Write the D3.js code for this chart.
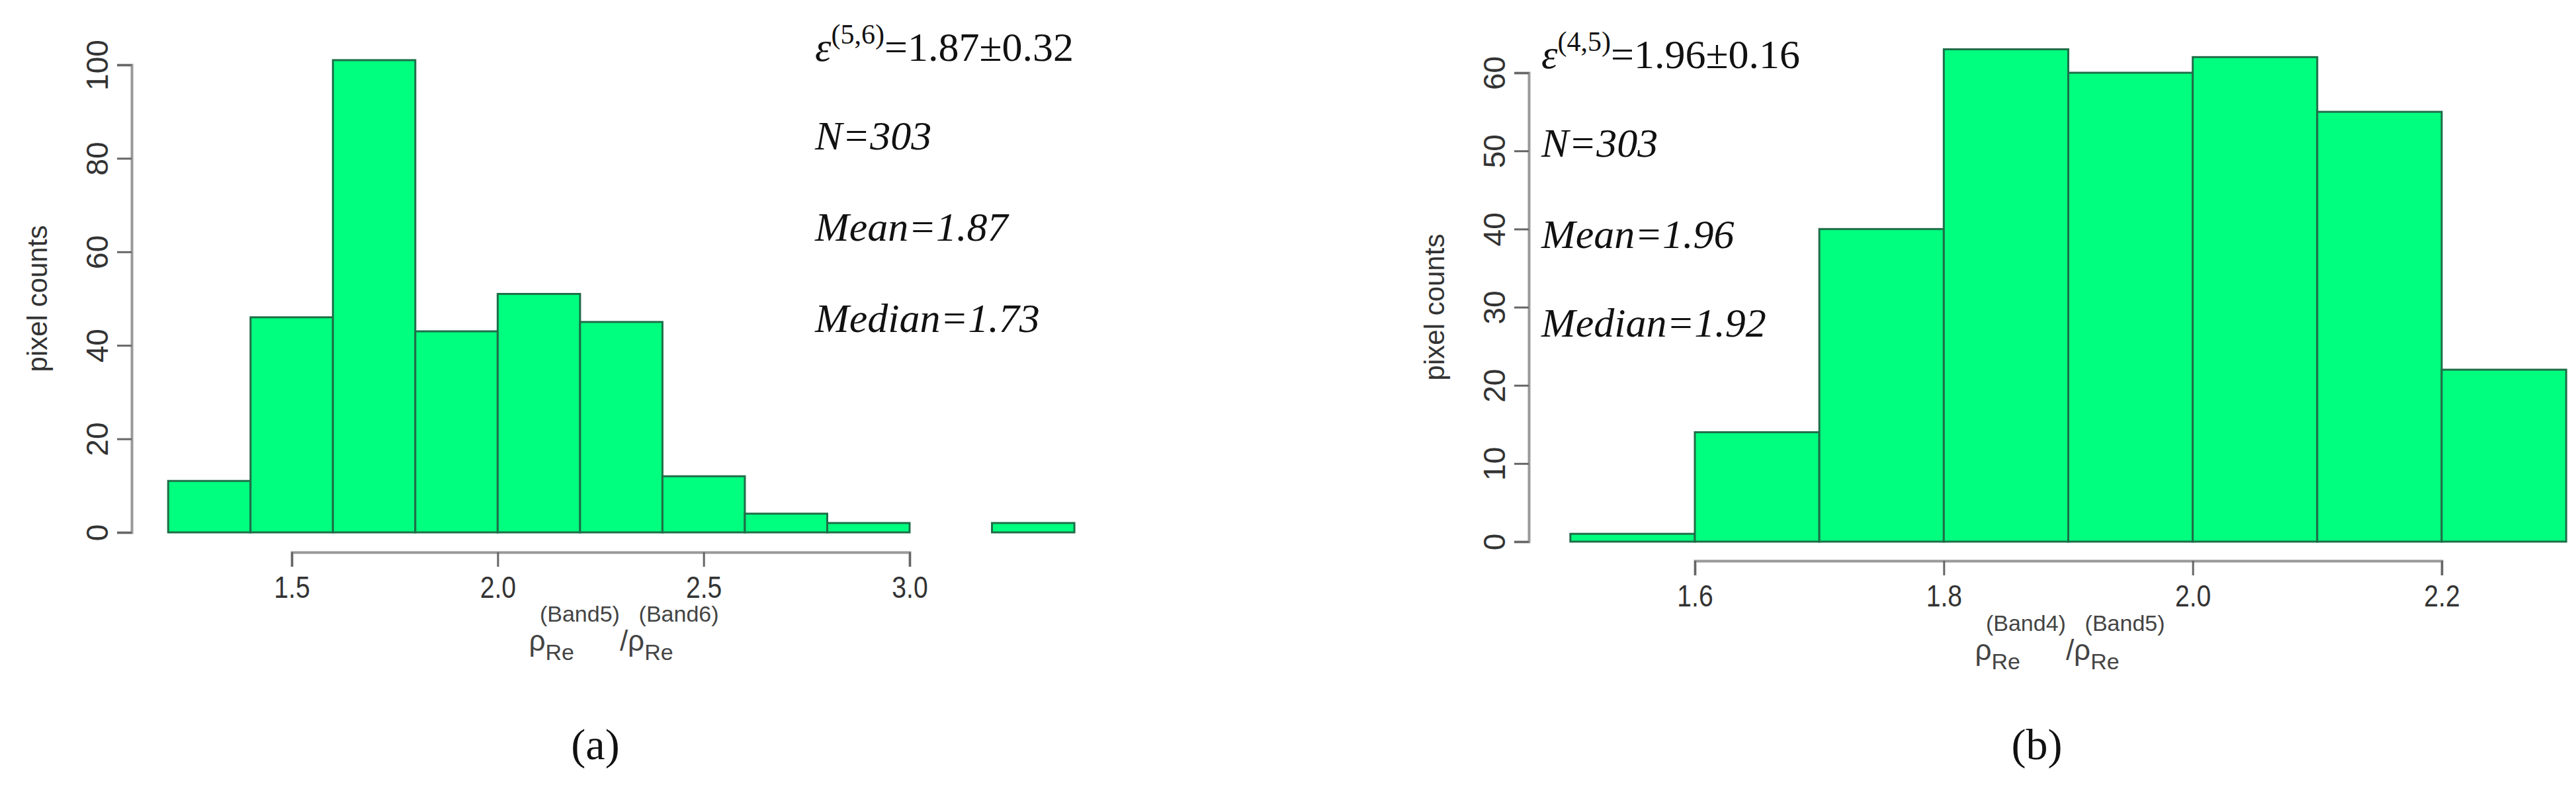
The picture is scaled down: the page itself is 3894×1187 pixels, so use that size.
<!DOCTYPE html>
<html><head><meta charset="utf-8">
<script src="https://cdn.jsdelivr.net/npm/d3@7"></script>
<style>body{margin:0;background:#fff}</style>
</head><body>
<script>
// panel (a)
const binsA = [1.2,1.4,1.6,1.8,2.0,2.2,2.4,2.6,2.8,3.0,3.2,3.4];
const countsA = [11,46,101,43,51,45,12,4,2,0,2];
const xTicksA = [1.5,2.0,2.5,3.0];
const yTicksA = [0,20,40,60,80,100];
const notesA = ['=1.87±0.32','N=303','Mean=1.87','Median=1.73'];
// panel (b)
const binsB = [1.5,1.6,1.7,1.8,1.9,2.0,2.1,2.2,2.3];
const countsB = [1,14,40,63,60,62,55,22];
const xTicksB = [1.6,1.8,2.0,2.2];
const yTicksB = [0,10,20,30,40,50,60];
const notesB = ['=1.96±0.16','N=303','Mean=1.96','Median=1.92'];

const svg = d3.select('body').append('svg').attr('width',3894).attr('height',1187);

function panel(o){
    const x = d3.scaleLinear().domain(o.xd).range(o.xr);
    const y = d3.scaleLinear().domain(o.yd).range(o.yr);
    const g = svg.append('g');
    const bars = o.counts.map((c,i)=>({x0:o.bins[i],x1:o.bins[i+1],c}));
    g.selectAll('rect').data(bars).enter().append('rect')
        .attr('x',d=>x(d.x0)).attr('width',d=>x(d.x1)-x(d.x0))
        .attr('y',d=>y(d.c)).attr('height',d=>y(0)-y(d.c))
        .style('fill','#00ff7f').style('stroke','#1f6e48').style('stroke-width',3);

    const xa = g.append('g').attr('transform',`translate(0,${o.xAxisY})`)
        .call(d3.axisBottom(x).tickValues(o.xTicks).tickFormat(d3.format('.1f')).tickSize(22).tickPadding(14));
    const ya = g.append('g').attr('transform',`translate(${o.yAxisX},0)`)
        .call(d3.axisLeft(y).tickValues(o.yTicks).tickSize(22).tickPadding(12));
    [xa,ya].forEach(a=>{
        a.select('.domain').attr('stroke','#999').attr('stroke-width',4);
        a.selectAll('.tick line').attr('stroke','#666').attr('stroke-width',3);
        a.selectAll('text').style('font-family','Liberation Sans').style('font-size','46px').attr('fill','#333');
    });
    xa.selectAll('text').attr('transform','scale(0.85,1)').attr('x',0)
        .each(function(){const t=d3.select(this.parentNode).attr('transform');});
    ya.selectAll('text').attr('transform','rotate(-90)').attr('text-anchor','middle').attr('x',0).attr('y',-36).attr('dy','0');

    svg.append('text').attr('transform',`translate(${o.yAxisX-128},${(o.yr[0]+o.yr[1])/2}) rotate(-90)`)
        .attr('text-anchor','middle').style('font-family','Liberation Sans').style('font-size','42px')
        .attr('fill','#333').text('pixel counts');

    // x label rho ratio
    const lab = svg.append('text').attr('x',o.labX).attr('y',o.labY).attr('text-anchor','middle')
        .style('font-family','Liberation Sans').style('font-size','44px').attr('fill','#444');
    lab.append('tspan').text('ρ');
    lab.append('tspan').attr('dy',14).style('font-size','34px').text('Re');
    lab.append('tspan').attr('dy',-58).style('font-size','34px').attr('dx',-52).text(`(Band${o.b1})`);
    lab.append('tspan').attr('dy',44).text('/ρ');
    lab.append('tspan').attr('dy',14).style('font-size','34px').text('Re');
    lab.append('tspan').attr('dy',-58).style('font-size','34px').attr('dx',-52).text(`(Band${o.b2})`);

    // annotations
    o.notes.forEach((t,i)=>{
        const tx = svg.append('text').attr('x',o.noteX).attr('y',o.noteY[i])
            .style('font-family','Liberation Serif').style('font-size','62px').attr('fill','#111');
        if(i===0){
            tx.append('tspan').style('font-style','italic').text('ε');
            tx.append('tspan').attr('dy',-26).style('font-size','42px').text(o.sup);
            tx.append('tspan').attr('dy',26).text(t);
        } else {
            tx.style('font-style','italic').text(t);
        }
    });
    svg.append('text').attr('x',o.capX).attr('y',1148).attr('text-anchor','middle')
        .style('font-family','Liberation Serif').style('font-size','66px').attr('fill','#111').text(o.cap);
}

panel({bins:binsA,counts:countsA,xTicks:xTicksA,yTicks:yTicksA,notes:notesA,
    xd:[1.5,3.0],xr:[441,1375],yd:[0,100],yr:[805,98],xAxisY:835,yAxisX:199,
    labX:943,labY:984,b1:5,b2:6,noteX:1232,noteY:[92,226,364,502],sup:'(5,6)',capX:900,cap:'(a)'});
panel({bins:binsB,counts:countsB,xTicks:xTicksB,yTicks:yTicksB,notes:notesB,
    xd:[1.6,2.2],xr:[2562,3691],yd:[0,60],yr:[819,110],xAxisY:848,yAxisX:2311,
    labX:3129,labY:998,b1:4,b2:5,noteX:2330,noteY:[103,237,375,509],sup:'(4,5)',capX:3079,cap:'(b)'});
</script>
</body></html>
